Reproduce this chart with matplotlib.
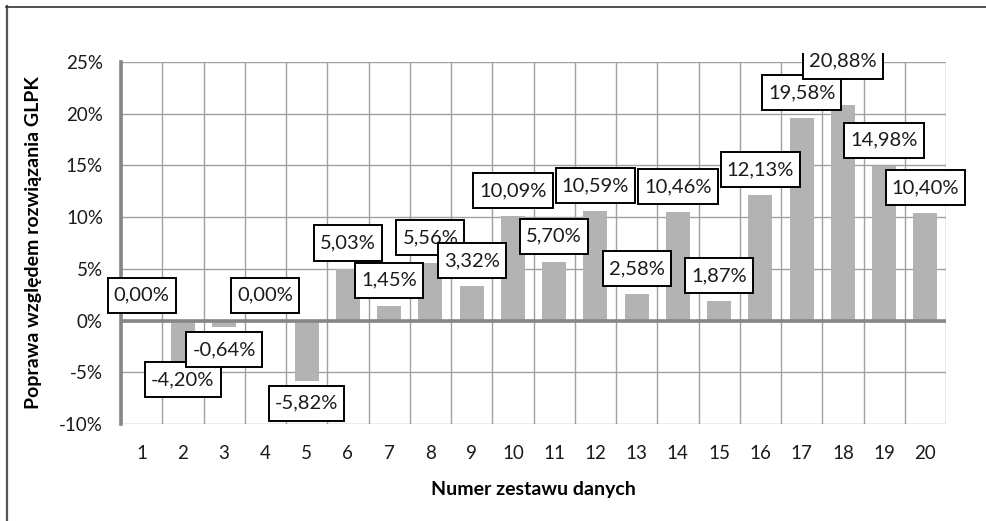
import matplotlib
matplotlib.use("Agg")
import matplotlib.pyplot as plt
from matplotlib.lines import Line2D
from matplotlib.path import Path
from matplotlib.transforms import Bbox
from matplotlib.ticker import FixedLocator, FuncFormatter

plt.rcParams['font.family'] = ['Lato', 'DejaVu Sans']

# Data
datasets = list(range(1, 21))
improvement = [0.00, -4.20, -0.64, 0.00, -5.82, 5.03, 1.45, 5.56, 3.32, 10.09,
               5.70, 10.59, 2.58, 10.46, 1.87, 12.13, 19.58, 20.88, 14.98, 10.40]
y_ticks = [-10, -5, 0, 5, 10, 15, 20, 25]

W, H = 986, 521
fig = plt.figure(figsize=(W / 100, H / 100), dpi=100)
ax = fig.add_axes([121 / W, 1 - 424 / H, (946 - 121) / W, (424 - 62) / H])

grid_c = '#a0a0a0'
axis_c = '#868686'
bar_c = '#b3b3b3'

ax.set_xlim(0.5, 20.5)
ax.set_ylim(-10, 25)

ax.bar(datasets, improvement, width=0.58, color=bar_c, zorder=2)

# grid: horizontal at major y ticks, vertical between categories
ax.yaxis.set_major_locator(FixedLocator(y_ticks))
ax.yaxis.set_major_formatter(FuncFormatter(lambda v, p: f"{v:.0f}%"))
ax.xaxis.set_major_locator(FixedLocator(datasets))
ax.xaxis.set_minor_locator(FixedLocator([d + 0.5 for d in [0] + datasets]))
ax.grid(axis='y', which='major', color=grid_c, linewidth=1.0, zorder=0)
ax.grid(axis='x', which='minor', color=grid_c, linewidth=1.0, zorder=0)
ax.set_axisbelow(True)

for s in ['top', 'right', 'bottom']:
    ax.spines[s].set_visible(False)
ax.spines['left'].set_color(axis_c)
ax.spines['left'].set_linewidth(2.6)
ax.axhline(0, color=axis_c, linewidth=2.6, zorder=3)

ax.tick_params(axis='both', which='both', length=0)
ax.tick_params(axis='x', which='major', pad=15, labelsize=13.5, colors='#1a1a1a')
ax.tick_params(axis='y', which='major', pad=13, labelsize=13.5, colors='#1a1a1a')

ax.set_xlabel('Numer zestawu danych', fontsize=14, fontweight='bold', labelpad=14)
ax.set_ylabel('Poprawa względem rozwiązania GLPK', fontsize=14, fontweight='bold', labelpad=12)


def label_box(x0, y0, width, height, mutation_size):
    """Rectangular frame with separate horizontal and vertical padding."""
    px = 0.30 * mutation_size
    py = 0.45 * mutation_size
    x0, y0 = x0 - px, y0 - py
    x1, y1 = x0 + width + 2 * px, y0 + height + 2 * py
    return Path([(x0, y0), (x1, y0), (x1, y1), (x0, y1), (x0, y0)], closed=True)


# value labels in boxes
for d, v in zip(datasets, improvement):
    txt = f"{v:.2f}%".replace('.', ',')
    if d == 18:
        dy, va = 35, 'bottom'
    elif d == 2:
        dy, va = -7, 'top'
    elif v >= 0:
        dy, va = 17, 'bottom'
    else:
        dy, va = -14, 'top'
    ann = ax.annotate(txt, (d, v), xytext=(0, dy), textcoords='offset pixels',
                      ha='center', va=va, fontsize=14.5, color='#1a1a1a',
                      bbox=dict(boxstyle=label_box, fc='white', ec='black', lw=1.4),
                      zorder=5, annotation_clip=False)
    if d == 18:
        ann.set_clip_on(True)
        ann.set_clip_box(Bbox.from_extents(0, 0, W, H - 53))

# outer frame of the chart area
fig.add_artist(Line2D([6.5 / W, 6.5 / W], [0, 1 - 6 / H], transform=fig.transFigure,
                      color='#555555', linewidth=1.6))
fig.add_artist(Line2D([6 / W, 1], [1 - 6.5 / H, 1 - 6.5 / H], transform=fig.transFigure,
                      color='#333333', linewidth=1.2))

fig.savefig('out.png', dpi=100)
